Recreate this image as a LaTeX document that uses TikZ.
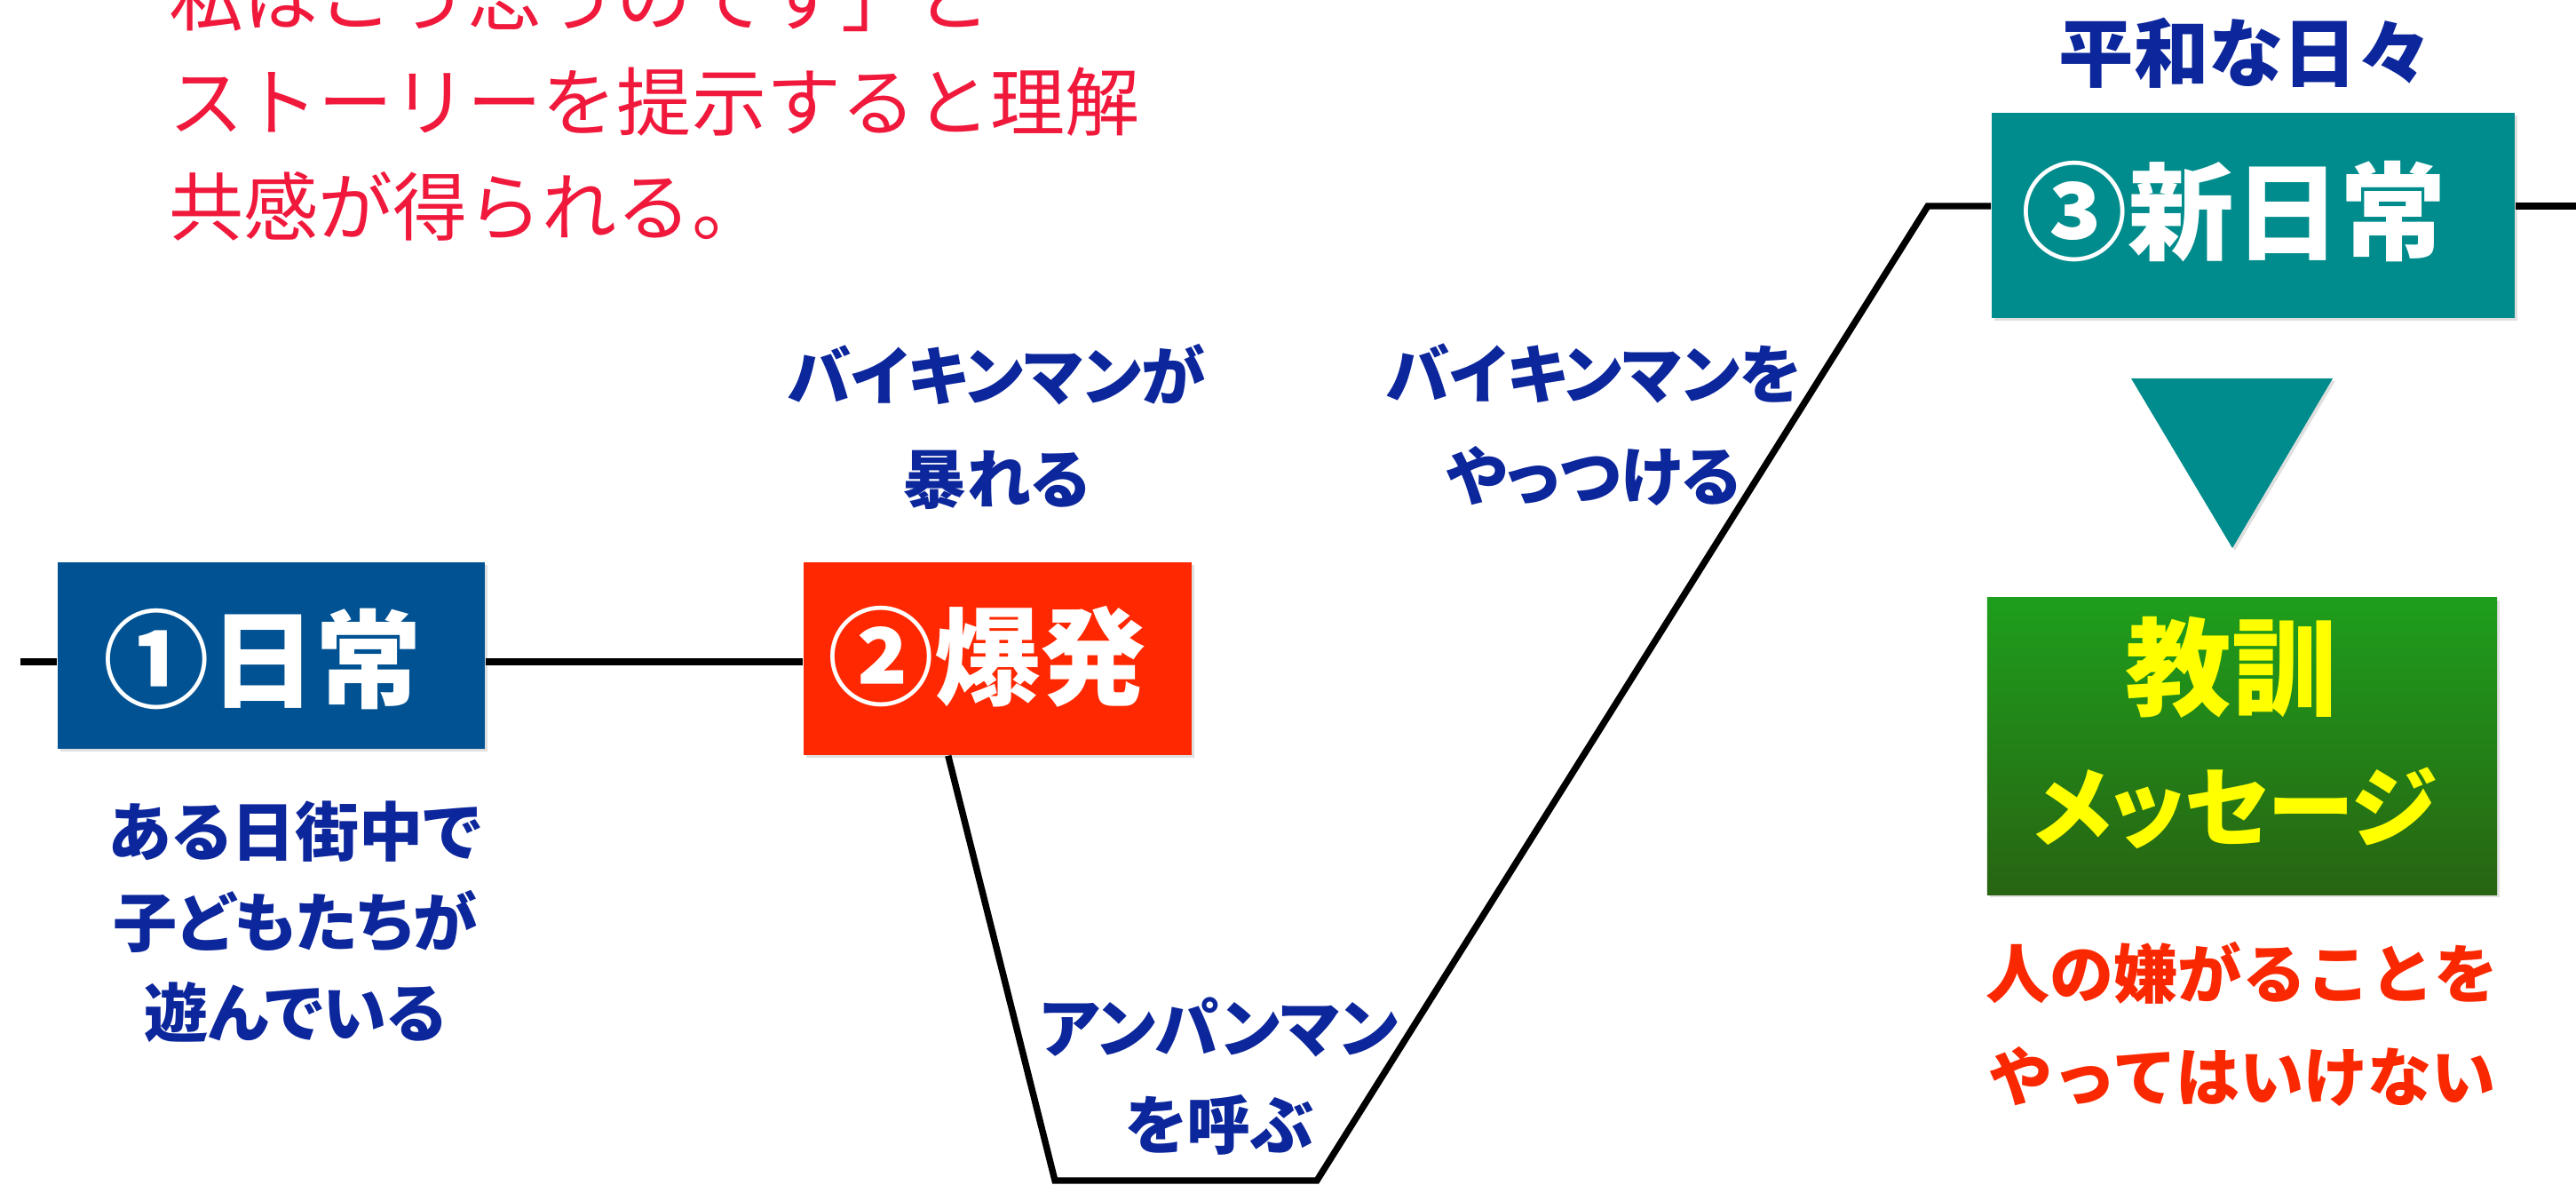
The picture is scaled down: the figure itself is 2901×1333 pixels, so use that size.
\documentclass[tikz,border=0pt]{standalone}
\usepackage{fontspec}
\newfontfamily\jp{Noto Sans CJK JP}
\newfontfamily\jpp[RawFeature=+palt]{Noto Sans CJK JP}
\usetikzlibrary{calc,shadows}
\definecolor{boxblue}{RGB}{0,82,147}
\definecolor{boxred}{RGB}{255,40,0}
\definecolor{boxteal}{RGB}{0,140,140}
\definecolor{greentop}{RGB}{30,158,28}
\definecolor{greenbot}{RGB}{40,100,18}
\definecolor{labelblue}{RGB}{12,38,156}
\definecolor{msgred}{RGB}{250,40,0}
\definecolor{toppink}{RGB}{240,25,60}
\definecolor{msgyellow}{RGB}{255,255,0}
\tikzset{
  stage/.style={rectangle, inner sep=0pt,
    drop shadow={shadow xshift=0.8pt, shadow yshift=-0.8pt, opacity=0.25}},
  stagetext/.style={inner sep=0pt, text=white,
    font={\jp\bfseries\fontsize{34pt}{34pt}\selectfont}},
  lbl/.style={align=center, text=labelblue, inner sep=0pt,
    font={\jpp\bfseries\fontsize{20.5pt}{#1}\selectfont}},
  conn/.style={line width=2.1pt, black, line join=miter},
}
\begin{document}
\begin{tikzpicture}[x=0.01cm,y=-0.01cm]
\fill[white] (0,0) rectangle (2901,1333);
\useasboundingbox (0,0) rectangle (2901,1333);
\clip (0,0) rectangle (2901,1333);

\node[anchor=west, align=left, text=toppink, inner sep=0pt,
  font={\jp\fontsize{23.9pt}{33.6pt}\selectfont}] (intro) at (190,115)
  {私はこう思うのです」と\\ストーリーを提示すると理解\\共感が得られる。};

\node[stage, fill=boxblue, minimum width=4.81cm, minimum height=2.10cm] (b1) at (305.5,738) {};
\node[stage, fill=boxred, minimum width=4.37cm, minimum height=2.17cm] (b2) at (1123.5,741.5) {};
\node[stage, fill=boxteal, minimum width=5.89cm, minimum height=2.31cm] (b3) at (2537.5,242.5) {};
\node[stage, top color=greentop, bottom color=greenbot, minimum width=5.74cm, minimum height=3.34cm] (b4) at (2525,840) {};

\node[stagetext] (b1t) at (296,742) {①日常};
\node[stagetext] (b2t) at (1112,739) {②爆発};
\node[stagetext] (b3t) at (2516,238) {③新日常};

\fill[boxteal, drop shadow={shadow xshift=0.8pt, shadow yshift=-0.8pt, opacity=0.25}]
  (2400,426) -- (2627,426) -- (2514,617) -- cycle;

\node[text=msgyellow, inner sep=0pt, font={\jp\bfseries\fontsize{34pt}{34pt}\selectfont}] (b4a) at (2513,751) {教訓};
\node[text=msgyellow, inner sep=0pt, font={\jpp\bfseries\fontsize{28pt}{28pt}\selectfont}] (b4b) at (2517,910) {メッセージ};

\node[lbl=29pt] (t1) at (332,1038) {ある日街中で\\子どもたちが\\遊んでいる};
\node[lbl=33pt] (t2) at (1122,480) {バイキンマンが\\暴れる};
\node[lbl=32.7pt] (t3) at (1795,478) {バイキンマンを\\やっつける};
\node[lbl=31pt] (t4) at (1373,1212) {アンパンマン\\を呼ぶ};
\node[lbl=24pt, font={\jpp\bfseries\fontsize{24pt}{24pt}\selectfont}] (t5) at (2528,60) {平和な日々};
\node[lbl=33pt, text=msgred, font={\jp\bfseries\fontsize{20.5pt}{33pt}\selectfont}] (msg) at (2525,1153) {人の嫌がることを\\やってはいけない};

\coordinate (s0) at (23,745);
\coordinate (v0) at ($(b2.south west)!0.373!(b2.south east)$);
\coordinate (v1) at (1188,1329);
\coordinate (v2) at (1483,1329);
\coordinate (c3) at (2171,232);
\coordinate (e3) at (2910,232);
\draw[conn] (s0) -- (s0 -| b1.west);
\draw[conn] (b1.east |- s0) -- (b2.west |- s0);
\draw[conn] (v0) -- (v1) -- (v2) -- (c3) -- (c3 -| b3.west);
\draw[conn] (b3.east |- c3) -- (e3);
\end{tikzpicture}
\end{document}
